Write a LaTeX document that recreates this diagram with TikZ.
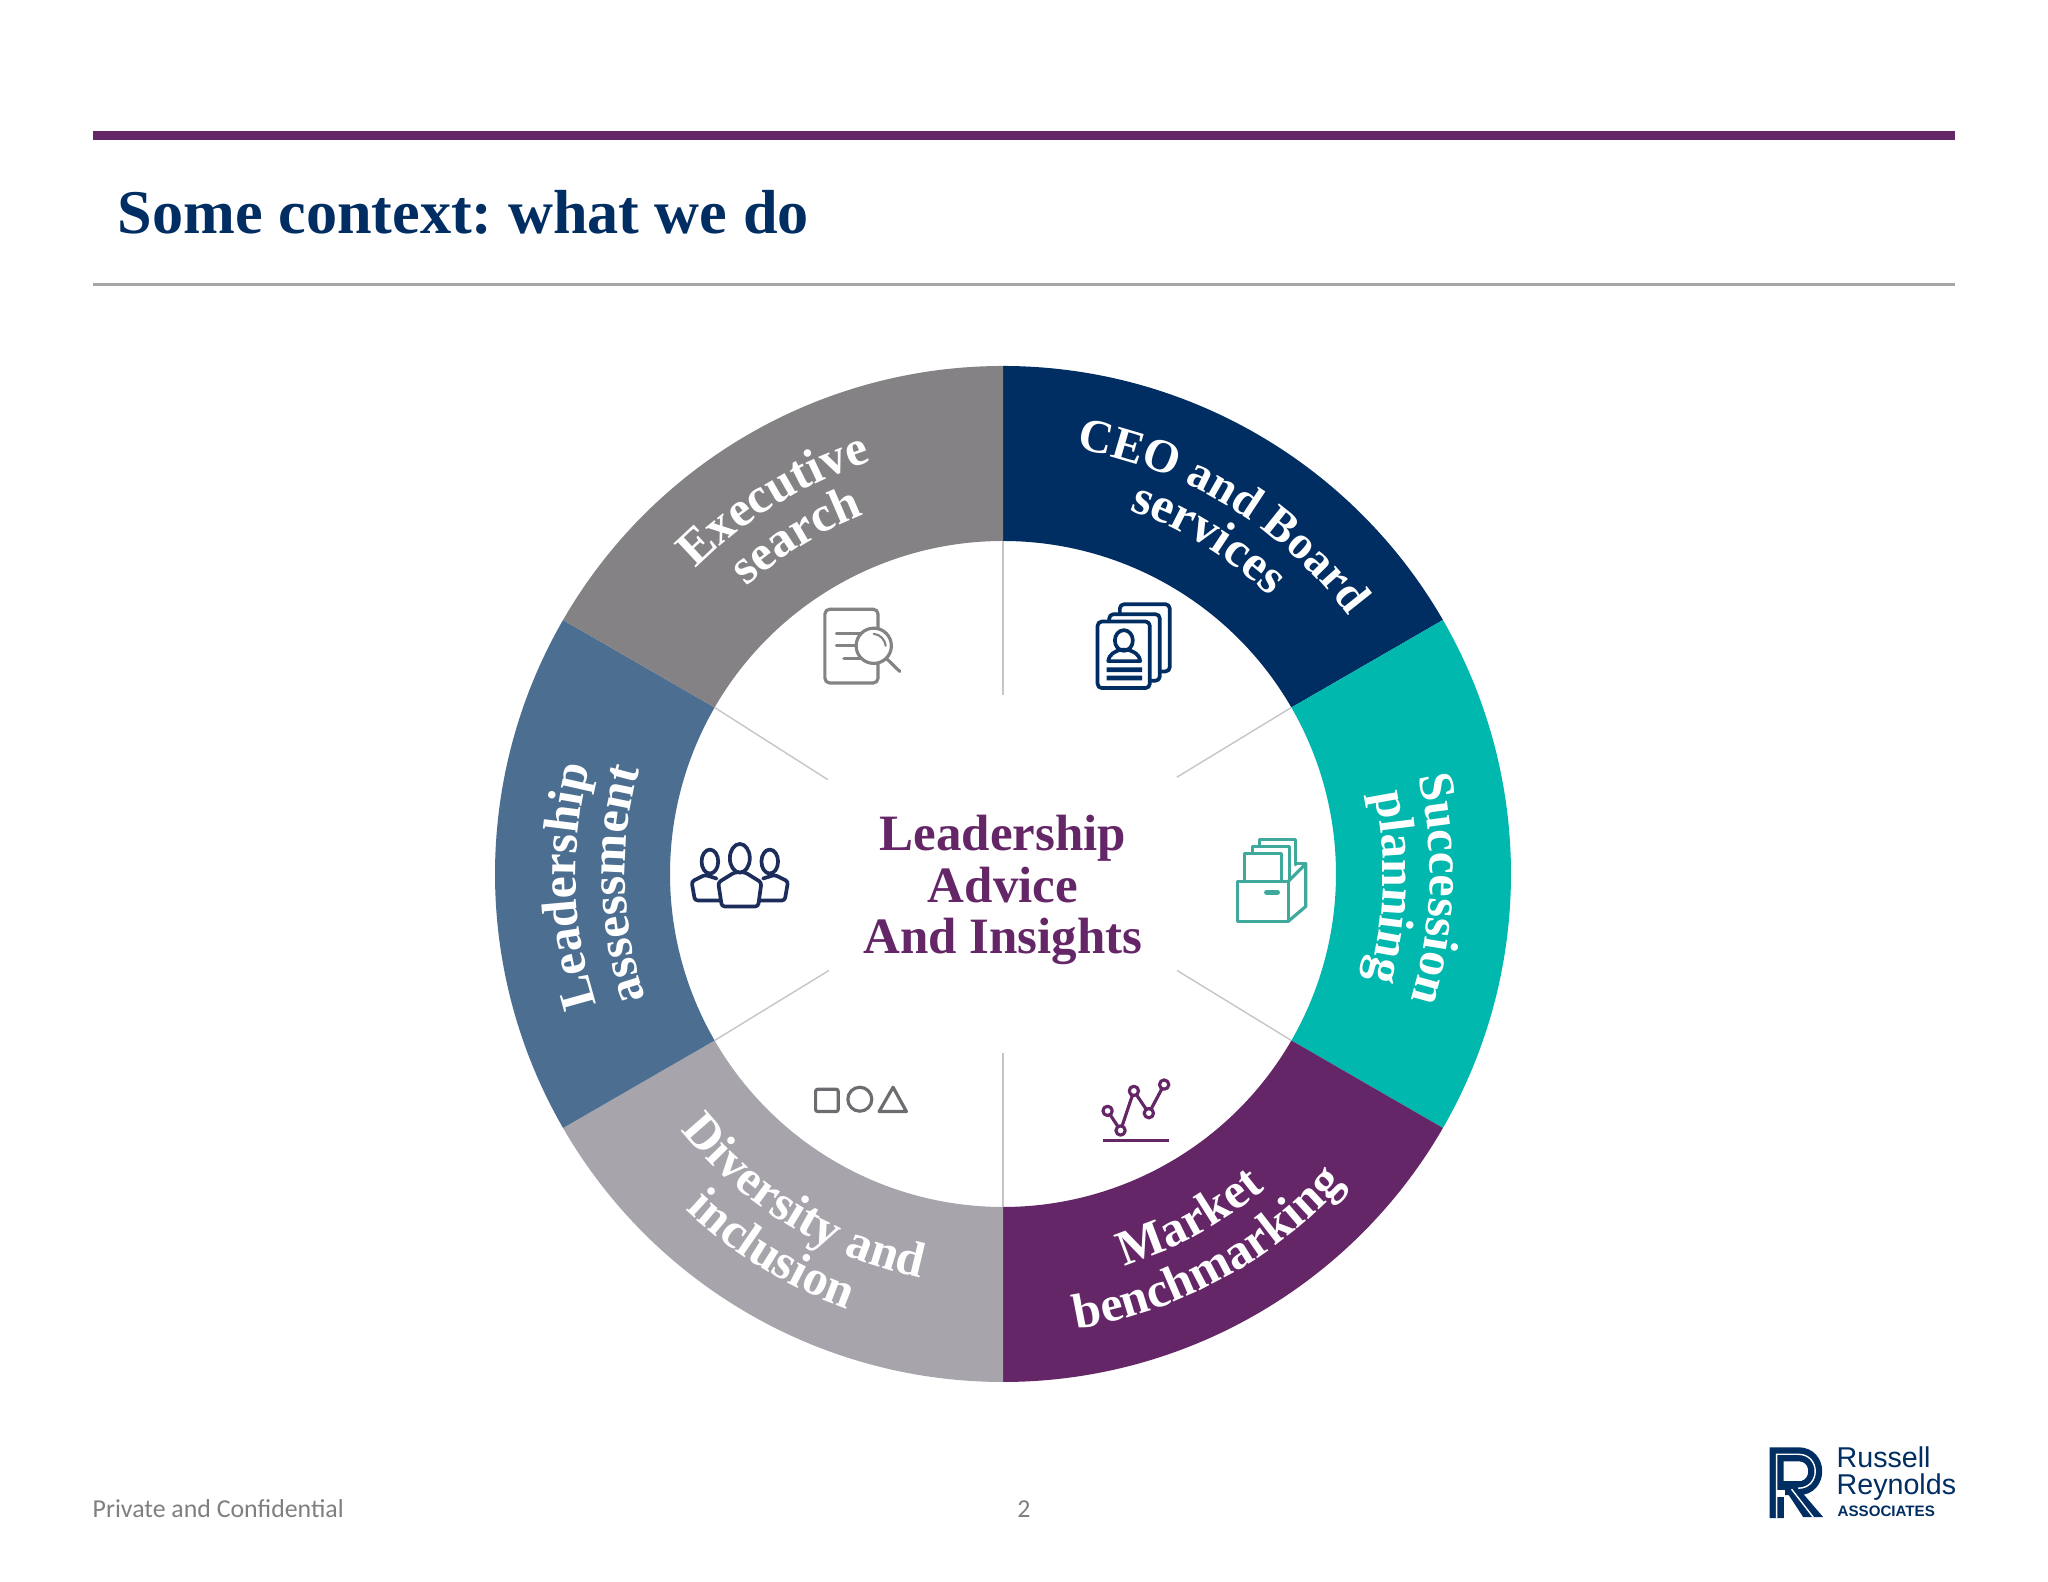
\documentclass[tikz,border=0pt]{standalone}
\usepackage{fontspec}
\setmainfont{Liberation Serif}
\newfontfamily\footfont{Carlito}
\newfontfamily\logofont{Liberation Sans}
\usetikzlibrary{decorations.text}
\definecolor{cCeo}{HTML}{002D62}
\definecolor{cSucc}{HTML}{00B8AD}
\definecolor{cMarket}{HTML}{642667}
\definecolor{cDiv}{HTML}{A7A4AB}
\definecolor{cLead}{HTML}{4C6F91}
\definecolor{cExec}{HTML}{848285}
\definecolor{cRule}{HTML}{A6A6A6}
\definecolor{cSpoke}{HTML}{C6C6CA}
\definecolor{cFoot}{HTML}{7F7F7F}
\definecolor{cFile}{HTML}{3FA99B}
\definecolor{cShape}{HTML}{6E6C70}
\definecolor{cPeople}{HTML}{1C2C5B}
\newcommand{\ringlabel}[5][14.2]{\path[decorate,decoration={text along path,text align=center,
    text={|\fontsize{#1}{15}\selectfont\bfseries\color{white}|#5}}] (#2:#4) arc (#2:#3:#4);}
\tikzset{
  spoke/.style={draw=cSpoke,line width=0.4pt},
  textnode/.style={inner sep=0pt,anchor=base west},
  hubtext/.style={inner sep=0pt,align=center,text=cMarket,font=\fontsize{14.5}{14.6}\selectfont\bfseries},
  zoomgrid/.style={x=0.00333333cm,y=-0.00333333cm},
  iconline/.style={line width=0.9pt,line cap=round,line join=round},
  heavyline/.style={line width=1.05pt,line cap=round,line join=round},
  logotext/.style={inner sep=0pt,anchor=base west,text=cCeo}
}
\begin{document}
\frenchspacing
\begin{tikzpicture}[x=1cm,y=1cm]
  \useasboundingbox (0,0) rectangle (20.48,15.82);
  \fill[white] (0,0) rectangle (20.48,15.82);

  % header
  \fill[cMarket] (0.93,14.51) rectangle (19.55,14.42);
  \fill[cRule] (0.93,12.99) rectangle (19.55,12.96);
  \node[textnode,text=cCeo,font=\fontsize{17.7}{20}\selectfont\bfseries] (title) at (1.17,13.48)
    {Some context: what we do};

  % ring
  \begin{scope}[shift={(10.03,7.08)}]
    \foreach \col/\from/\to in {cCeo/90/30,cSucc/30/-30,cMarket/-30/-90,cDiv/-90/-150,cLead/210/150,cExec/150/90} {
      \fill[\col] (\from:5.08) arc (\from:\to:5.08) -- (\to:3.33) arc (\to:\from:3.33) -- cycle;
    }
    \foreach \ang/\tip/\rad in {90/90/1.79,-90/-90/1.79,30/29.1/1.99,-30/-29/1.99,150/151.7/1.99,210/209/1.99} {
      \draw[spoke] (\ang:3.33) -- (\tip:\rad);
    }
    \ringlabel[13.4]{93.5}{23.5}{4.31}{CEO and Board}
    \ringlabel{88.5}{28.5}{3.85}{services}
    \ringlabel{28}{-32}{4.27}{Succession}
    \ringlabel{28}{-32}{3.80}{planning}
    \ringlabel{268.5}{328.5}{4.10}{Market}
    \ringlabel{258.5}{338.5}{4.61}{benchmarking}
    \ringlabel{198.5}{278.5}{4.12}{Diversity and}
    \ringlabel{208.5}{268.5}{4.62}{inclusion}
    \ringlabel{211.6}{151.6}{4.27}{Leadership}
    \ringlabel{211.6}{151.6}{3.78}{assessment}
    \ringlabel{151.5}{91.5}{4.33}{Executive}
    \ringlabel{151.5}{91.5}{3.85}{search}
  \end{scope}
  \node[hubtext] (hub) at (10.03,6.92) {Leadership\\Advice\\And Insights};

  % search icon
  \begin{scope}[shift={(7.60,10.22)},zoomgrid,cExec]
    \draw[iconline,rounded corners=1.4pt] (195,148) rectangle (355,370);
    \draw[iconline] (230,222) -- (300,222) (230,258) -- (290,258) (252,295) -- (305,295);
    \draw[iconline,fill=white] (342,258) circle[radius=53];
    \draw[iconline] (382,298) -- (420,335);
    \draw[line width=0.6pt,line cap=round] (342,222) .. controls (362,224) and (376,240) .. (378,258);
  \end{scope}

  % cards icon
  \begin{scope}[shift={(10.60,10.12)},zoomgrid,cCeo]
    \draw[heavyline,fill=white,rounded corners=1.2pt] (180,103) rectangle (330,305);
    \draw[heavyline,fill=white,rounded corners=1.2pt] (148,133) rectangle (300,333);
    \draw[heavyline,fill=white,rounded corners=1.2pt] (113,155) rectangle (270,355);
    \draw[heavyline] (192,212) ellipse[x radius=27,y radius=31];
    \draw[heavyline] (145,274) .. controls (148,252) and (165,246) .. (180,240)
      -- (205,240) .. controls (222,246) and (238,252) .. (241,274) -- cycle;
    \fill (140,293) rectangle (247,307) (140,318) rectangle (247,332);
  \end{scope}

  % files icon
  \begin{scope}[shift={(12.00,7.72)},zoomgrid,cFile]
    \draw[iconline] (178,108) -- (178,88) -- (288,88) -- (288,165);
    \draw[iconline] (158,130) -- (158,110) -- (268,110) -- (268,212);
    \draw[iconline] (135,212) -- (135,132) -- (245,132) -- (245,212);
    \draw[iconline] (112,215) rectangle (265,335);
    \draw[iconline] (265,215) -- (318,162) -- (318,290) -- (265,335);
    \draw[iconline] (290,162) -- (318,162);
    \draw[line width=1.4pt,line cap=round] (200,247) -- (233,247);
  \end{scope}

  % people icon
  \begin{scope}[shift={(6.60,7.62)},zoomgrid,cPeople]
    \draw[heavyline,rounded corners=0.8pt] (170,176) -- (135,165) -- (95,185) -- (105,242) -- (180,242);
    \draw[heavyline,rounded corners=0.8pt] (310,176) -- (345,165) -- (385,185) -- (375,242) -- (300,242);
    \draw[heavyline] (150,125) ellipse[x radius=25,y radius=36];
    \draw[heavyline] (330,125) ellipse[x radius=25,y radius=36];
    \draw[heavyline,fill=white,rounded corners=0.8pt] (225,157) -- (175,188) -- (186,260) -- (295,260) -- (305,188) -- (255,157) -- cycle;
    \draw[heavyline,fill=white] (240,115) ellipse[x radius=30,y radius=43];
  \end{scope}

  % shapes icon
  \begin{scope}[shift={(7.80,5.22)},zoomgrid,cShape]
    \draw[iconline,rounded corners=0.6pt] (107,88) rectangle (175,155);
    \draw[iconline] (240,118) circle[radius=36];
    \draw[iconline] (340,82) -- (298,155) -- (380,155) -- cycle;
  \end{scope}

  % chart icon
  \begin{scope}[shift={(10.80,5.22)},zoomgrid,cMarket]
    \draw[iconline] (83,153) -- (122,212) -- (162,93) -- (207,160) -- (253,74);
    \foreach \px/\py in {83/153,122/212,162/93,207/160,253/74} {
      \draw[iconline,fill=white] (\px,\py) circle[radius=14];
    }
    \draw[line width=0.75pt] (70,242) -- (268,242);
  \end{scope}

  % footer
  \node[textnode,text=cFoot,font=\footfont\fontsize{7.35}{8}\selectfont] (foot) at (0.92,0.64)
    {Private and Confidential};
  \node[inner sep=0pt,anchor=base,text=cFoot,font=\footfont\fontsize{7.35}{8}\selectfont] (page) at (10.24,0.64) {2};

  % logo
  \begin{scope}[shift={(17.60,1.42)},zoomgrid,cCeo]
    \draw[line width=3.98pt] (50,235) -- (50,43) -- (115,43) .. controls (183,43) and (183,145) .. (115,145) -- (50,145);
    \fill[white] (48,150) rectangle (75,172);
    \fill (52,172) rectangle (72,235);
    \fill (75,148) -- (118,148) -- (190,232) -- (130,232) -- cycle;
    \draw[white,line width=0.4pt] (50,235) -- (50,43) -- (115,43) .. controls (183,43) and (183,145) .. (115,145) (95,148) -- (160,232);
    \fill[white] (72,68) rectangle (125,122);
  \end{scope}
  \node[logotext,font=\logofont\fontsize{8.15}{9}\selectfont] (russell) at (18.36,1.14) {Russell};
  \node[logotext,font=\logofont\fontsize{8.15}{9}\selectfont] (reynolds) at (18.36,0.87) {Reynolds};
  \node[logotext,font=\logofont\bfseries\fontsize{4.3}{5}\selectfont] (assoc) at (18.37,0.65) {ASSOCIATES};
\end{tikzpicture}
\end{document}
